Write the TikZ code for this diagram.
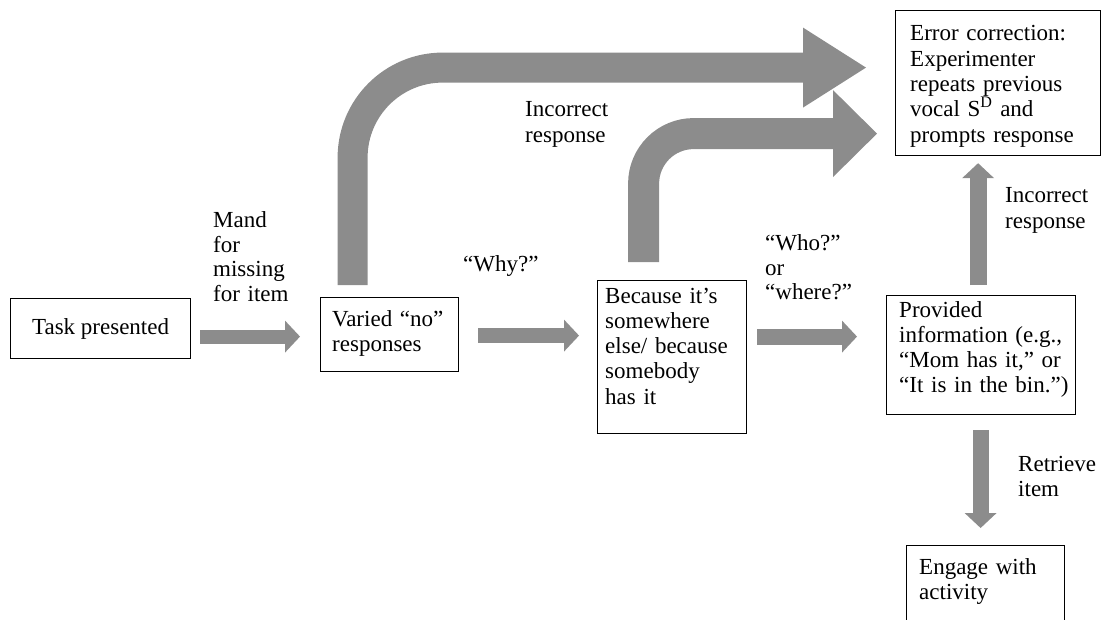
\documentclass[tikz,border=0pt]{standalone}
\usepackage{fontspec}
\setmainfont{Liberation Serif}
\usetikzlibrary{arrows.meta,calc}
\definecolor{agray}{RGB}{140,140,140}
\begin{document}
\begin{tikzpicture}[x=1pt,y=-1pt,
  box/.style={draw=black,line width=1.2pt,anchor=north west,inner sep=0pt},
  txt/.style={anchor=base west,inner sep=0pt,align=left,text width=#1,font=\fontsize{23}{25.3}\selectfont},
  sarrow/.style={draw=agray,line width=#1,-{Triangle[width=32pt,length=15pt,line width=0pt]}},
  bigarrow/.style={draw=agray,line width=30pt,rounded corners=90pt,-{Triangle[width=80pt,length=63pt,line width=0pt]}},
  midarrow/.style={draw=agray,line width=31pt,rounded corners=50pt,-{Triangle[width=87pt,length=44pt,line width=0pt]}}]
\useasboundingbox (0,0) rectangle (1102,620);
\clip (0,0) rectangle (1102,620);

% boxes
\node[box,minimum width=180,minimum height=60,font=\fontsize{23}{25.3}\selectfont] (task) at (10,298) {Task presented};
\node[box,minimum width=138,minimum height=74] (varied) at (320,297) {};
\node[txt=130pt] (variedt) at (332,326) {Varied “no”\\responses};
\node[box,minimum width=149,minimum height=153] (because) at (597,280) {};
\node[txt=140pt] (becauset) at (605,303) {Because it’s\\somewhere\\else/ because\\somebody\\has it};
\node[box,minimum width=189,minimum height=119] (provided) at (886,295) {};
\node[txt=180pt] (providedt) at (899,317) {Provided\\information (e.g.,\\“Mom has it,” or\\“It is in the bin.”)};
\node[box,minimum width=205,minimum height=145] (error) at (895,10) {};
\node[txt=195pt] (errort) at (910,41) {Error correction:\\Experimenter\\repeats previous\\vocal S\textsuperscript{D} and\\prompts response};
\node[box,minimum width=158,minimum height=100] (engage) at (906,545) {};
\node[txt=150pt] (engaget) at (919,574) {Engage with\\activity};

% labels
\node[txt=100pt,font=\fontsize{23}{24.5}\selectfont] (mand) at (213,228) {Mand\\for\\missing\\for item};
\node[txt=100pt] (why) at (463,271) {“Why?”};
\node[txt=100pt,font=\fontsize{23}{24.5}\selectfont] (who) at (765,251) {“Who?”\\or\\“where?”};
\node[txt=120pt] (inc1) at (525,117) {Incorrect\\response};
\node[txt=95pt] (inc2) at (1005,203) {Incorrect\\response};
\node[txt=84pt] (retrieve) at (1018,471) {Retrieve\\item};

% straight block arrows
\draw[sarrow=14pt] ($(task.east)+(9,8)$) -- ($(task.east -| varied.west)+(-20,8)$);
\draw[sarrow=15pt] ($(varied.east)+(19,1)$) -- ($(because.west |- varied.east)+(-18,1)$);
\draw[sarrow=16pt] ($(because.east |- varied.east)+(10,2)$) -- ($(provided.west |- varied.east)+(-29,2)$);
\draw[sarrow=17pt] ($(provided.north)+(-3,-10)$) -- ($(error.south -| provided.north)+(-3,7)$);
\draw[sarrow=16pt] ($(provided.south)+(-0.5,15)$) -- ($(engage.north -| provided.south)+(-0.5,-17)$);

% curved block arrows
\draw[bigarrow] ($(varied.north)+(-37,-12)$) |- ($(error.west)+(-29,-15.5)$);
\draw[midarrow] ($(because.north)+(-28.5,-18)$) |- ($(error.west)+(-18,50.5)$);
\end{tikzpicture}
\end{document}
